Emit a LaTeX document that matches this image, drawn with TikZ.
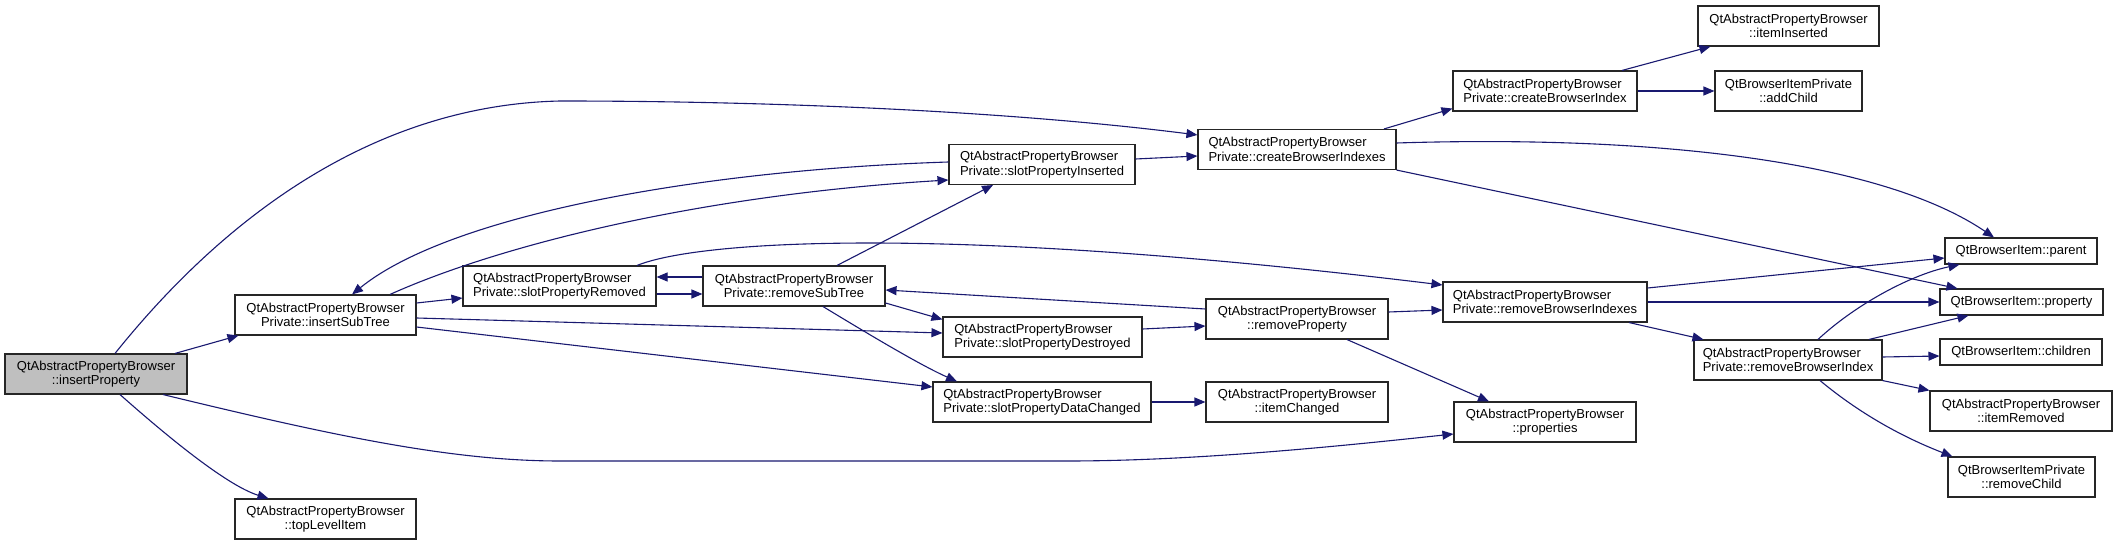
\documentclass[tikz,border=0pt]{standalone}
\usepackage{fontspec}
\setmainfont{Liberation Sans}
\usetikzlibrary{arrows.meta}

\definecolor{edgeblue}{HTML}{191970}
\definecolor{callergrey}{HTML}{BFBFBF}

\begin{document}
\begin{tikzpicture}[x=1pt, y=-1pt,
    every node/.style={draw=black!85, fill=white, line width=1.1pt, inner sep=0pt,
      minimum height=40pt, align=center, font=\fontsize{13}{14.3}\selectfont},
    leftbox/.style={align=left},
    onebox/.style={minimum height=26pt},
    call/.style={draw=edgeblue, line width=1.1pt, -{Triangle[length=11pt, width=9pt]}}]

        \useasboundingbox (0,0) rectangle (2117,545);

        % Class name used in most boxes
        \def\qapb{QtAbstractPropertyBrowser}

        % Caller
        \node[fill=callergrey, minimum width=182pt] (ip) at (96,374) {\qapb\\::insertProperty};

        % Second column
        \node[minimum width=181pt] (ist) at (325.5,315) {\qapb\\Private::insertSubTree};
        \node[minimum width=181pt] (tli) at (325.5,519) {\qapb\\::topLevelItem};

        % Slot and subtree helpers
        \node[leftbox, minimum width=193pt] (spr) at (559.5,286) {\qapb\\Private::slotPropertyRemoved};
        \node[minimum width=182pt] (rst) at (794,286) {\qapb\\Private::removeSubTree};
        \node[leftbox, minimum width=186pt] (spi) at (1042,164.5) {\qapb\\Private::slotPropertyInserted};
        \node[leftbox, minimum width=199pt] (spd) at (1042.5,337) {\qapb\\Private::slotPropertyDestroyed};
        \node[leftbox, minimum width=218pt] (spdc) at (1042,402) {\qapb\\Private::slotPropertyDataChanged};

        % Index handling
        \node[leftbox, minimum width=198pt] (cbis) at (1297,149.5) {\qapb\\Private::createBrowserIndexes};
        \node[minimum width=182pt] (rp) at (1297,319) {\qapb\\::removeProperty};
        \node[minimum width=182pt] (ic) at (1297,402) {\qapb\\::itemChanged};
        \node[leftbox, minimum width=184pt] (cbi) at (1545,91) {\qapb\\Private::createBrowserIndex};
        \node[leftbox, minimum width=204pt] (rbis) at (1545,302) {\qapb\\Private::removeBrowserIndexes};
        \node[minimum width=182pt] (props) at (1545,422) {\qapb\\::properties};
        \node[minimum width=181pt] (iins) at (1788.5,26) {\qapb\\::itemInserted};
        \node[minimum width=147pt] (ac) at (1788.5,91) {QtBrowserItemPrivate\\::addChild};
        \node[leftbox, minimum width=188pt] (rbi) at (1788,360) {\qapb\\Private::removeBrowserIndex};

        % Leaf calls
        \node[onebox, minimum width=152pt] (par) at (2021,251) {QtBrowserItem::parent};
        \node[onebox, minimum width=163pt] (prop) at (2021.5,302) {QtBrowserItem::property};
        \node[onebox, minimum width=162pt] (ch) at (2021,352) {QtBrowserItem::children};
        \node[minimum width=182pt] (ir) at (2021,411) {\qapb\\::itemRemoved};
        \node[minimum width=147pt] (rc) at (2021.5,477) {QtBrowserItemPrivate\\::removeChild};

        % Calls out of insertProperty
        \draw[call] ([xshift=79pt]ip.north) -- ([xshift=4pt]ist.south west);
        \draw[call] ([xshift=24pt]ip.south) .. controls (160,430) and (225,485) .. ([xshift=-57pt]tli.north);
        \draw[call] ([xshift=19pt]ip.north) .. controls (230,210) and (380,105) .. (560,101)
          .. controls (760,101) and (1000,110) .. ([yshift=-6pt]cbis.north west);
        \draw[call] ([xshift=67pt]ip.south) .. controls (330,435) and (450,461) .. (560,461) -- (1067,461)
          .. controls (1200,461) and (1350,445) .. ([yshift=-12pt]props.west);

        % insertSubTree and the slots
        \draw[call] ([yshift=12pt]ist.east) -- ([yshift=-12pt]spr.west);
        \draw[call] ([xshift=64.5pt]ist.north) .. controls (500,245) and (700,195) .. ([yshift=-15.5pt]spi.west);
        \draw[call] ([yshift=2.5pt]spi.west) .. controls (700,170) and (450,215) .. ([xshift=26.5pt]ist.north);
        \draw[call] ([yshift=-3pt]ist.east) -- ([yshift=4pt]spd.west);
        \draw[call] ([yshift=-12pt]ist.east) -- ([yshift=15pt]spdc.west);
        \draw[call] ([yshift=-8pt]spr.east) -- ([yshift=-8pt]rst.west);
        \draw[call] ([yshift=9pt]rst.west) -- ([yshift=9pt]spr.east);
        \draw[call] ([xshift=77.5pt]spr.north) .. controls (700,240) and (950,225) .. ([yshift=17pt]rbis.west);

        % removeSubTree
        \draw[call] ([xshift=43pt]rst.north) -- ([xshift=-49pt]spi.south);
        \draw[call] ([yshift=-17pt]rst.east) -- ([yshift=-3pt]spd.north west);
        \draw[call] ([xshift=29pt]rst.south) .. controls (870,335) and (920,365) .. ([xshift=-85pt]spdc.north);
        \draw[call] ([yshift=10pt]rp.west) -- ([yshift=-4pt]rst.east);

        % Towards the indexes
        \draw[call] ([yshift=5.5pt]spi.east) -- ([yshift=-6.5pt]cbis.west);
        \draw[call] ([yshift=8pt]spd.east) -- ([yshift=-7pt]rp.west);
        \draw[call] ([yshift=7pt]rp.east) -- ([yshift=-8pt]rbis.west);
        \draw[call] ([xshift=50pt]rp.south) -- ([xshift=-56pt]props.north);
        \draw[call] (spdc) -- (ic);

        % createBrowserIndexes
        \draw[call] ([xshift=87pt]cbis.north) -- ([yshift=3pt]cbi.south west);
        \draw[call] ([yshift=6.5pt]cbis.east) .. controls (1650,135) and (1880,160) .. ([xshift=-27pt]par.north);
        \draw[call] (cbis.south east) -- ([xshift=18pt]prop.north west);
        \draw[call] ([xshift=77pt]cbi.north) -- ([xshift=13pt]iins.south west);
        \draw[call] (cbi) -- (ac);

        % removeBrowserIndexes
        \draw[call] ([yshift=14pt]rbis.east) -- ([yshift=-7pt]par.west);
        \draw[call] (rbis) -- (prop);
        \draw[call] ([xshift=84pt]rbis.south) -- ([xshift=10pt]rbi.north west);

        % removeBrowserIndex
        \draw[call] ([xshift=30pt]rbi.north) .. controls (1855,305) and (1910,275) .. ([xshift=15pt]par.south west);
        \draw[call] ([xshift=81pt]rbi.north) -- ([xshift=29pt]prop.south west);
        \draw[call] ([yshift=3pt]rbi.east) -- ([yshift=-4pt]ch.west);
        \draw[call] (rbi.south east) -- (ir.north west);
        \draw[call] ([xshift=32pt]rbi.south) .. controls (1865,418) and (1910,440) .. ([xshift=5pt]rc.north west);

      \end{tikzpicture}
\end{document}
